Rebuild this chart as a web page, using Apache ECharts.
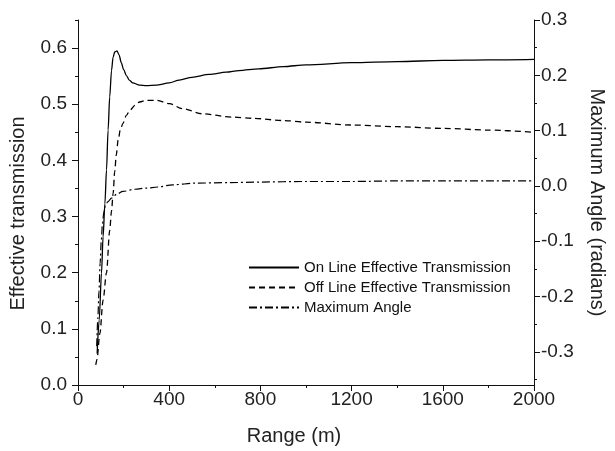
<!DOCTYPE html>
<html>
<head>
<meta charset="utf-8">
<script src="https://cdn.jsdelivr.net/npm/echarts@6/dist/echarts.min.js"></script>
<style>
html,body{margin:0;padding:0;background:#fff;}
#c{width:615px;height:451px;}
</style>
</head>
<body>
<div id="c"></div>
<script>
// ---- data ----
const onRange = [84, 93, 103, 110, 118, 125, 132, 139, 147, 154, 161, 171, 180, 190, 200, 212, 225, 240, 270, 300, 343, 400, 444, 500, 575, 650, 706, 793, 900, 1000, 1200, 1400, 1600, 1800, 2000];
const onLine = [0.056, 0.116, 0.199, 0.264, 0.323, 0.383, 0.454, 0.513, 0.560, 0.584, 0.593, 0.595, 0.588, 0.574, 0.562, 0.551, 0.543, 0.538, 0.534, 0.533, 0.534, 0.538, 0.543, 0.548, 0.553, 0.557, 0.560, 0.563, 0.567, 0.570, 0.574, 0.576, 0.578, 0.579, 0.580];

const offRange = [78, 83, 96, 110, 125, 139, 147, 154, 161, 168, 176, 186, 197, 212, 227, 250, 270, 300, 343, 401, 459, 546, 677, 764, 900, 1000, 1200, 1400, 1600, 1800, 2000];
const offLine = [0.036, 0.045, 0.092, 0.151, 0.200, 0.275, 0.310, 0.341, 0.380, 0.410, 0.436, 0.455, 0.466, 0.480, 0.489, 0.498, 0.504, 0.507, 0.507, 0.501, 0.492, 0.483, 0.477, 0.475, 0.471, 0.468, 0.463, 0.460, 0.457, 0.454, 0.450];

const angRange = [82, 87, 92, 97, 102, 107, 113, 120, 130, 147, 170, 197, 250, 299, 350, 415, 517, 662, 800, 1000, 1200, 1400, 1600, 1800, 2000];
const maxAngle = [-0.29, -0.24, -0.19, -0.14, -0.10, -0.07, -0.048, -0.036, -0.029, -0.022, -0.015, -0.010, -0.006, -0.004, -0.002, 0.002, 0.005, 0.006, 0.007, 0.008, 0.008, 0.009, 0.009, 0.009, 0.009];

const xTicks = [0, 400, 800, 1200, 1600, 2000];
const leftTicks = [0, 0.1, 0.2, 0.3, 0.4, 0.5, 0.6];
const leftMinor = [0.05, 0.15, 0.25, 0.35, 0.45, 0.55, 0.65];
const rightTicks = [-0.3, -0.2, -0.1, 0, 0.1, 0.2, 0.3];
const rightMinor = [-0.35, -0.25, -0.15, -0.05, 0.05, 0.15, 0.25];

const seriesNames = ['On Line Effective Transmission', 'Off Line Effective Transmission', 'Maximum Angle'];

const zip = (a, b) => a.map((v, i) => [v, b[i]]);

const FONT = 'Liberation Sans, Arial, sans-serif';
const AX = '#111';
const TXT = '#222';
const TICKFS = 19;
const NAMEFS = 20;

const chart = echarts.init(document.getElementById('c'), null, {renderer: 'canvas'});

const baseY = {
  type: 'value',
  splitLine: {show: false},
  axisLine: {show: true, lineStyle: {color: AX, width: 1}},
};

chart.setOption({
  animation: false,
  backgroundColor: '#fff',
  grid: {left: 78, right: 78, top: 20, bottom: 66, containLabel: false},
  legend: {
    orient: 'vertical',
    left: 248,
    top: 260,
    padding: 0,
    itemWidth: 50,
    itemHeight: 14,
    itemGap: 5,
    itemStyle: {opacity: 0},
    textStyle: {fontFamily: FONT, fontSize: 15, color: '#111'},
    data: seriesNames
  },
  xAxis: {
    type: 'value',
    min: 0, max: 2000, interval: 400,
    name: 'Range (m)',
    nameLocation: 'middle',
    nameGap: 41,
    nameTextStyle: {fontFamily: FONT, fontSize: NAMEFS, color: TXT, padding: [0, 24, 0, 0]},
    axisLine: {show: true, onZero: false, lineStyle: {color: AX, width: 1}},
    axisTick: {show: true, inside: false, length: 6, lineStyle: {color: AX}},
    minorTick: {show: true, splitNumber: 2, length: 3, lineStyle: {color: AX}},
    splitLine: {show: false},
    axisLabel: {fontFamily: FONT, fontSize: TICKFS, color: TXT, margin: 5,
      customValues: xTicks, formatter: v => String(Math.round(v))}
  },
  yAxis: [
    Object.assign({}, baseY, {
      position: 'left',
      min: 0, max: 0.65,
      name: 'Effective transmission',
      nameLocation: 'middle',
      nameGap: 50,
      nameTextStyle: {fontFamily: FONT, fontSize: NAMEFS, color: TXT, padding: [0, 22, 0, 0]},
      axisTick: {show: true, length: 6, lineStyle: {color: AX}, customValues: leftTicks},
      axisLabel: {fontFamily: FONT, fontSize: TICKFS, color: TXT, margin: 11,
        customValues: leftTicks, formatter: v => v.toFixed(1)}
    }),
    Object.assign({}, baseY, {
      position: 'right',
      min: -0.36, max: 0.3,
      name: 'Maximum Angle (radians)',
      nameLocation: 'middle',
      nameRotate: -90,
      nameGap: 53,
      nameTextStyle: {fontFamily: FONT, fontSize: NAMEFS, color: TXT},
      axisTick: {show: true, length: 6, lineStyle: {color: AX}, customValues: rightTicks},
      axisLabel: {fontFamily: FONT, fontSize: TICKFS, color: TXT, margin: 7,
        customValues: rightTicks, formatter: v => v.toFixed(1)}
    }),
    Object.assign({}, baseY, {
      position: 'left',
      min: 0, max: 0.65,
      axisLine: {show: false},
      axisTick: {show: true, length: 3, lineStyle: {color: AX}, customValues: leftMinor},
      axisLabel: {show: false, customValues: leftMinor}
    }),
    Object.assign({}, baseY, {
      position: 'right',
      min: -0.36, max: 0.3,
      axisLine: {show: false},
      axisTick: {show: true, length: 3, lineStyle: {color: AX}, customValues: rightMinor},
      axisLabel: {show: false, customValues: rightMinor}
    })
  ],
  series: [
    {
      name: seriesNames[0], type: 'line', yAxisIndex: 0,
      data: zip(onRange, onLine),
      symbol: 'none', smooth: 0.3, smoothMonotone: 'x',
      lineStyle: {color: '#000', width: 1.3, type: 'solid'},
      itemStyle: {color: '#000'}
    },
    {
      name: seriesNames[1], type: 'line', yAxisIndex: 0,
      data: zip(offRange, offLine),
      symbol: 'none', smooth: 0.3, smoothMonotone: 'x',
      lineStyle: {color: '#000', width: 1.3, type: [6, 4]},
      itemStyle: {color: '#000'}
    },
    {
      name: seriesNames[2], type: 'line', yAxisIndex: 1,
      data: zip(angRange, maxAngle),
      symbol: 'none', smooth: 0.3, smoothMonotone: 'x',
      lineStyle: {color: '#000', width: 1.2, type: [8, 3, 2, 3]},
      itemStyle: {color: '#000'}
    }
  ]
});
</script>
</body>
</html>
